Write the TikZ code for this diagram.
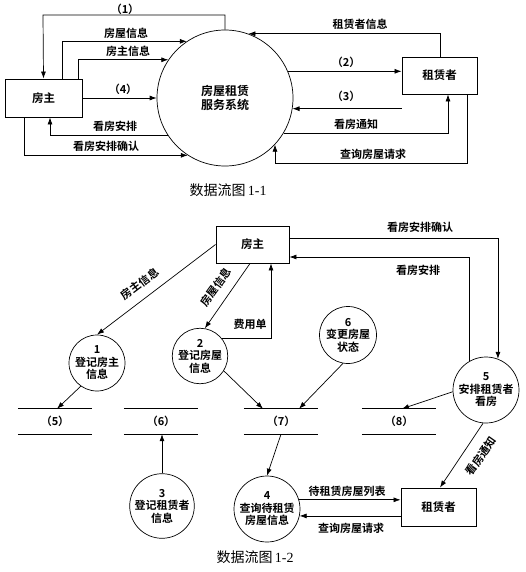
\documentclass[tikz,border=0pt]{standalone}
\usepackage{fontspec}
\setmainfont{Noto Sans CJK SC}[BoldFont={Noto Sans CJK SC Bold}]
\newfontfamily\capserif{Liberation Serif}
\usetikzlibrary{arrows.meta}
\tikzset{
  box/.style={draw, line width=0.9pt, font=\bfseries\fontsize{11.5}{13}\selectfont, inner sep=0pt},
  proc/.style={draw, circle, line width=0.7pt, align=center, inner sep=0pt, font=\bfseries\fontsize{11}{12.5}\selectfont},
  flow/.style={line width=0.7pt, -{Latex[length=7pt,width=5pt]}},
  lbl/.style={font=\bfseries\fontsize{11}{12}\selectfont, inner sep=1pt},
  store/.style={minimum width=74, minimum height=25, inner sep=0pt, font=\bfseries\fontsize{11}{12}\selectfont},
  captext/.style={font=\fontsize{14}{15}\selectfont}
}
\begin{document}
\begin{tikzpicture}[x=1pt, y=-1pt]
\useasboundingbox (0,0) rectangle (526,572);
% ---------------- Diagram 1-1 ----------------
\node[box, minimum width=77, minimum height=38] (o1) at (43.5,98) {房主};
\node[proc, minimum size=136, font=\bfseries\fontsize{12}{14}\selectfont] (s) at (225,98) {房屋租赁\\服务系统};
\node[box, minimum width=75, minimum height=37] (t1) at (439.5,75.5) {租赁者};

\draw[flow] (s.north) |- (43,15) -- (o1.north);
\node[lbl] (l1) at (125,9) {（1）};
\draw[flow] (62,0 |- o1.north) |- (s.124.6);
\node[lbl] (l2) at (126,33) {房屋信息};
\draw[flow] (78,0 |- o1.north) |- (s.146);
\node[lbl] (l3) at (128,51) {房主信息};
\draw[flow] (o1.east) -- (s.west);
\node[lbl] (l4) at (123,89) {（4）};
\draw[flow] (s.213) -| (50,0 |- o1.south);
\node[lbl] (l5) at (115,126) {看房安排};
\draw[flow] (24,0 |- o1.south) |- (s.237);
\node[lbl] (l6) at (106,146) {看房安排确认};
\draw[flow] (440,0 |- t1.north) |- (s.70);
\node[lbl] (l7) at (360,24) {租赁者信息};
\draw[flow] (s.23) -- (s.23 -| t1.west);
\node[lbl] (l8) at (346,62) {（2）};
\draw[flow] (s.-9 -| t1.west) -- (s.-9);
\node[lbl] (l9) at (346,96) {（3）};
\draw[flow] (s.-31) -| (448,0 |- t1.south);
\node[lbl] (l10) at (356,124) {看房通知};
\draw[flow] (467,0 |- t1.south) |- (s.-43 |- 0,163) -- (s.-43);
\node[lbl] (l11) at (373,154) {查询房屋请求};
\node[captext] (c1) at (228,190) {数据流图\,{\capserif 1-1}};

% ---------------- Diagram 1-2 ----------------
\node[box, minimum width=73, minimum height=37] (o2) at (252.5,244.5) {房主};
\node[box, minimum width=75, minimum height=38] (t2) at (438.5,507) {租赁者};
\node[proc, minimum size=56] (p1) at (97,363) {1\\登记房主\\信息};
\node[proc, minimum size=55] (p2) at (200,356) {2\\登记房屋\\信息};
\node[proc, minimum size=57] (p6) at (348,335) {6\\变更房屋\\状态};
\node[proc, minimum size=62] (p3) at (162,506) {3\\登记租赁者\\信息};
\node[proc, minimum size=66] (p4) at (267,509) {4\\查询待租赁\\房屋信息};
\node[proc, minimum size=66] (p5) at (486,390) {5\\安排租赁者\\看房};

\foreach \n/\x/\t in {d5/55/5, d6/161/6, d7/281/7, d8/399/8}{
  \node[store] (\n) at (\x,421.5) {（\t）};
  \draw[line width=0.9pt] (\n.north west) -- (\n.north east);
  \draw[line width=0.9pt] (\n.south west) -- (\n.south east);
}

\draw[flow] (o2.east |- 0,238) -| (p5.69);
\node[lbl] (m1) at (420,227) {看房安排确认};
\draw[flow] (p5.119) |- (o2.east |- 0,257);
\node[lbl] (m2) at (418,270) {看房安排};
\draw[flow] (o2.west) -- (p1.north);
\node[lbl, rotate=37] (m3) at (140,284) {房主信息};
\draw[flow] (250,0 |- o2.south) -- (p2.80);
\node[lbl, rotate=54] (m4) at (216,287) {房屋信息};
\draw[flow] (p2.39) -| (271,0 |- o2.south);
\node[lbl] (m5) at (250,324) {费用单};
\draw[flow] (p2.-32) -- (263,0 |- d7.north);
\draw[flow] (p6.-100) -- (299,0 |- d7.north);
\draw[flow] (p1.235) -- (57,0 |- d5.north);
\draw[flow] (p3.north) -- (p3.north |- d6.south);
\draw[flow] (281,0 |- d7.south) -- (p4.north);
\draw[flow] (p5.183) -- (402,0 |- d8.north);
\draw[flow] (p5.-95) -- (440,0 |- t2.north);
\node[lbl, rotate=55] (m6) at (481,456) {看房通知};
\draw[flow] (p4.16) -- (p4.16 -| t2.west);
\node[lbl] (m7) at (347,491) {待租赁房屋列表};
\draw[flow] (p4.-12 -| t2.west) -- (p4.-12);
\node[lbl] (m8) at (351,528) {查询房屋请求};
\node[captext] (c2) at (255,557) {数据流图\,{\capserif 1-2}};
\end{tikzpicture}
\end{document}
